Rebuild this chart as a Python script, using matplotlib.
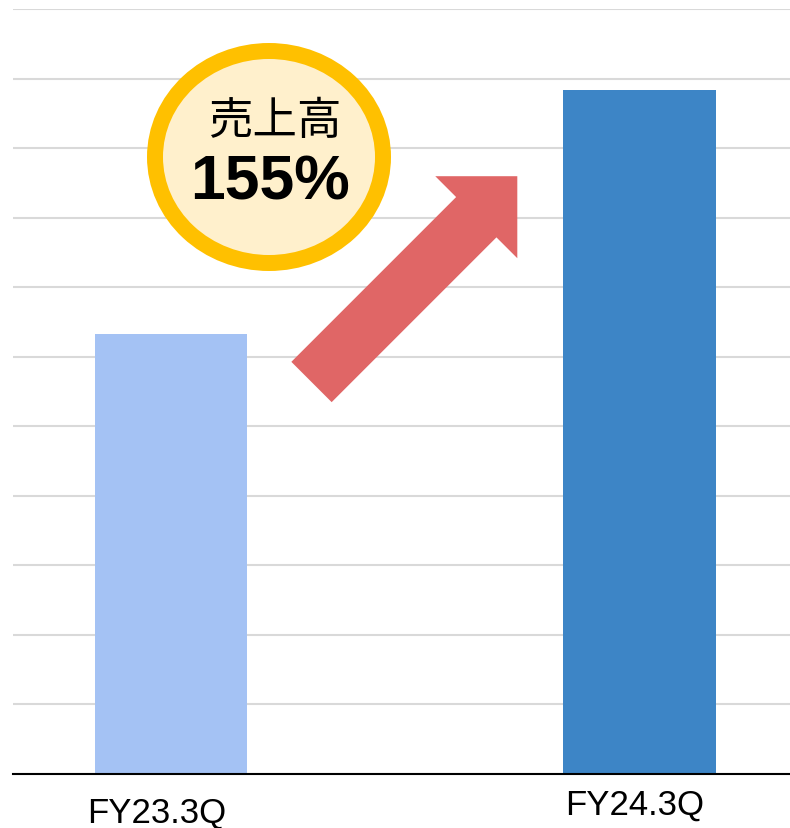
import matplotlib.pyplot as plt
from matplotlib.patches import Ellipse, FancyArrow

# quarterly sales (relative units)
periods = ['FY23.3Q', 'FY24.3Q']
sales = [6.33, 9.84]
bar_colors = ['#A4C2F4', '#3D85C6']
growth_label = '155%'
badge_title = '売上高'

fig = plt.figure(figsize=(7.9, 8.29), dpi=100)
ax = fig.add_axes([0.0165, 0.0651, 0.9835, 0.9228])

x = list(range(len(periods)))
ax.bar(x, sales, width=0.325, color=bar_colors, zorder=2)

ax.set_xlim(-0.337, 1.321)
ax.set_ylim(0, 11)
ax.set_yticks(range(0, 12))
ax.yaxis.grid(True, color='#D9D9D9', linewidth=1.5, zorder=0)
ax.set_axisbelow(True)
ax.tick_params(left=False, bottom=False, labelleft=False, labelbottom=False)
for side in ['top', 'right', 'left']:
    ax.spines[side].set_visible(False)
ax.spines['bottom'].set_color('black')
ax.spines['bottom'].set_linewidth(1.5)
ax.spines['bottom'].set_zorder(3)

# period labels under the bars
label_offsets = [(-0.03, -0.050), (-0.01, -0.039)]
for xi, name, (dx, dy) in zip(x, periods, label_offsets):
    ax.text(xi + dx, dy, name, transform=ax.get_xaxis_transform(),
            ha='center', va='center', fontsize=25, family='Liberation Sans',
            color='black')

# growth arrow and badge (placed in inches)
tr = fig.dpi_scale_trans
arrow = FancyArrow(3.115, 4.46, 2.058, 2.058, width=0.57, head_width=1.16,
                   head_length=0.58, length_includes_head=True,
                   color='#E06666', linewidth=0, transform=tr, zorder=4)
fig.add_artist(arrow)

badge = Ellipse((2.69, 6.71), 2.28, 2.12, facecolor='#FFF0CC',
                edgecolor='#FFC000', linewidth=11.5, transform=tr, zorder=5)
fig.add_artist(badge)

fig.text(2.75, 7.08, badge_title, transform=tr, ha='center', va='center',
         fontsize=32, family=['Noto Sans CJK JP', 'DejaVu Sans'], zorder=6)
fig.text(2.70, 6.46, growth_label, transform=tr, ha='center', va='center',
         fontsize=45, fontweight='bold', family='Liberation Sans', zorder=6)

fig.savefig('out.png', dpi=100)
